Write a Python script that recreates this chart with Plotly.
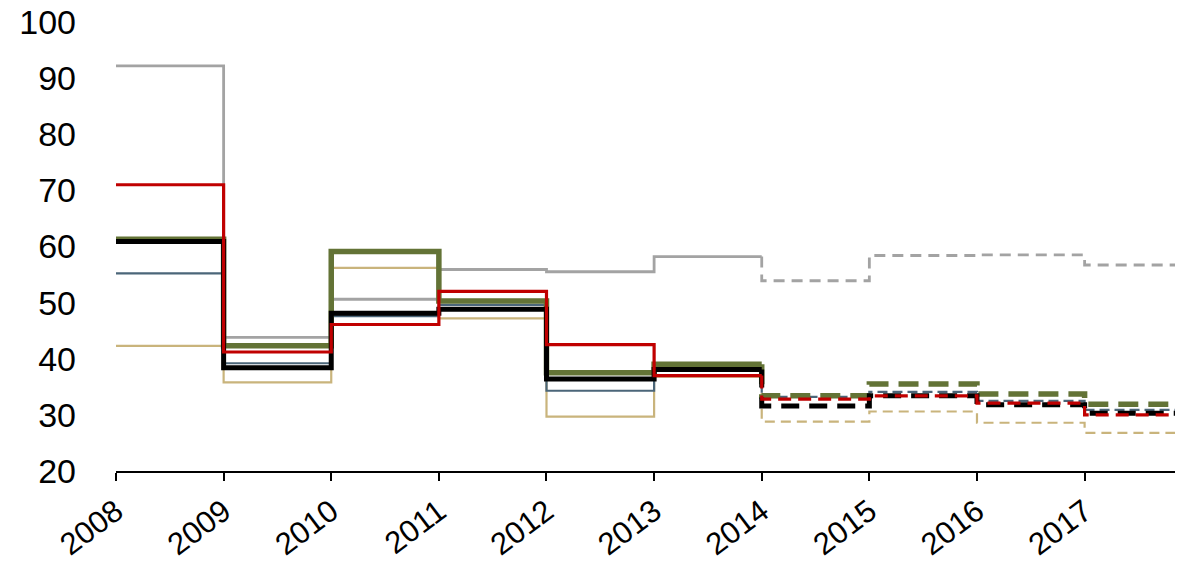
import plotly.graph_objects as go

years = list(range(2008, 2018))
x_end = 2017.84
forecast_start = 2014

gray   = [92.2, 43.8, 50.6, 55.9, 55.5, 58.2, 53.9, 58.4, 58.5, 56.7]
red    = [71.0, 41.2, 46.1, 52.0, 42.5, 37.0, 32.8, 33.4, 32.1, 30.0]
black  = [60.9, 38.4, 48.1, 48.8, 36.4, 38.1, 31.6, 33.4, 31.8, 30.3]
olive  = [61.3, 42.3, 59.1, 50.3, 37.5, 39.0, 33.4, 35.5, 33.7, 31.9]
slate  = [55.2, 39.2, 47.6, 49.6, 34.3, 38.4, 33.2, 34.1, 32.5, 30.9]
tan    = [42.3, 35.8, 56.2, 47.2, 29.7, 36.8, 28.8, 30.6, 28.6, 26.8]

y_ticks = [20, 30, 40, 50, 60, 70, 80, 90, 100]

series = [
    ("tan",   tan,   "#C9B47C", 2.2, "10px,6px"),
    ("slate", slate, "#4B6679", 2.2, "10px,5px"),
    ("gray",  gray,  "#A3A3A3", 2.8, "11px,7px"),
    ("olive", olive, "#637336", 5.5, "20px,10px"),
    ("black", black, "#000000", 5.0, "18px,10px"),
    ("red",   red,   "#C00000", 3.2, "13px,7px"),
]

fig = go.Figure()
for name, vals, color, width, dash in series:
    hist_x = [y for y in years if y < forecast_start] + [forecast_start]
    hist_y = [v for y, v in zip(years, vals) if y < forecast_start]
    hist_y = hist_y + [hist_y[-1]]
    fig.add_trace(go.Scatter(x=hist_x, y=hist_y, mode="lines", name=name,
                             line=dict(color=color, width=width, shape="hv"),
                             showlegend=False, hoverinfo="skip"))
    fc_years = [y for y in years if y >= forecast_start]
    fc_vals = [v for y, v in zip(years, vals) if y >= forecast_start]
    fx = [forecast_start] + fc_years + [x_end]
    fy = [hist_y[-1]] + fc_vals + [fc_vals[-1]]
    fig.add_trace(go.Scatter(x=fx, y=fy, mode="lines", name=name + " forecast",
                             line=dict(color=color, width=width, shape="hv", dash=dash),
                             showlegend=False, hoverinfo="skip"))

fig.update_layout(
    width=1180, height=563,
    margin=dict(l=116, r=5, t=22, b=92),
    plot_bgcolor="white", paper_bgcolor="white",
    font=dict(family="Liberation Sans, Arial, sans-serif", color="black"),
)
fig.update_xaxes(
    range=[2008, x_end], tickvals=years, ticktext=[str(y) for y in years],
    tickangle=-37, tickfont=dict(size=31), showgrid=False, zeroline=False,
    showline=True, linecolor="black", linewidth=2,
    ticks="outside", ticklen=8, tickwidth=1.5, tickcolor="black",
    automargin=False, ticklabeloverflow="allow",
)
fig.update_yaxes(
    range=[20, 100], tickvals=y_ticks, tickfont=dict(size=34),
    showgrid=False, zeroline=False, showline=False, ticks="",
    ticklabelstandoff=39, automargin=False, ticklabeloverflow="allow",
)
fig.write_html(
    "out.html",
    config={"displayModeBar": False},
    post_script="document.body.style.margin='0';document.body.style.overflow='hidden';",
)
